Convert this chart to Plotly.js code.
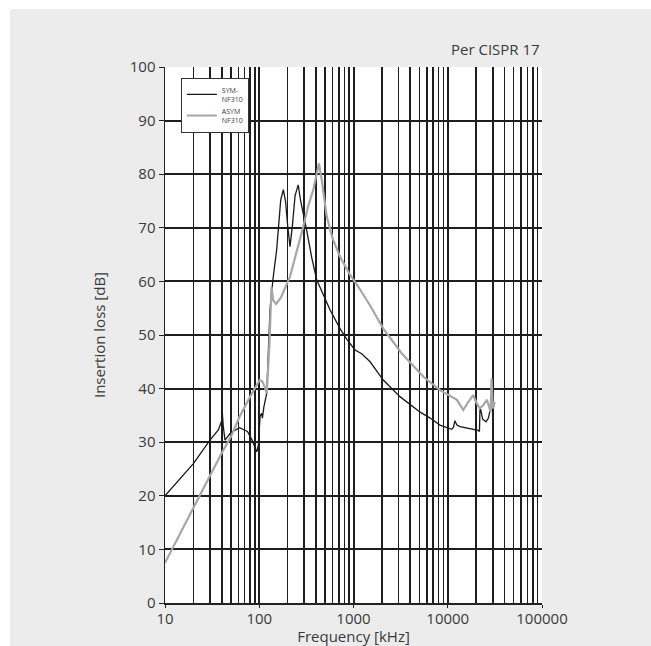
<!DOCTYPE html>
<html>
<head>
<meta charset="utf-8">
<script src="https://cdn.plot.ly/plotly-3.0.1.min.js"></script>
<style>
  html, body { margin: 0; padding: 0; background: #ffffff; }
  #chart { position: absolute; left: 10px; top: 9px; width: 641px; height: 637px; }
</style>
</head>
<body>
<div id="chart"></div>
<script>
// SYM-NF310 (black)
const symFreq = [10, 15, 20, 30, 36.8, 40, 40.5, 41.5, 43.3, 50, 62, 75, 85, 90, 94, 98, 102, 106, 108, 112, 120, 130, 140, 153, 169, 180, 190, 200, 212, 225, 240, 259, 275, 318, 360, 407, 480, 563, 720, 850, 1038, 1222, 1500, 2070, 3110, 4500, 4870, 5100, 6500, 8280, 11000, 11500, 11900, 12500, 13500, 17000, 21100, 21700, 22000, 23500, 25500, 27000, 28200, 30000, 31000];
const symLoss = [20, 23.5, 26, 30.4, 32.3, 34.0, 35.7, 33.0, 30.4, 31.8, 32.7, 32.0, 30.2, 29.0, 28.2, 29.5, 34.8, 35.4, 34.5, 36.6, 39.1, 54.7, 60.5, 65.9, 75.2, 77.1, 75.0, 70.5, 66.5, 70.5, 76.0, 78.0, 75.0, 69.6, 64.5, 60.3, 57.3, 54.7, 51.2, 49.2, 47.2, 46.5, 45.0, 41.6, 38.5, 36.4, 36.0, 35.6, 34.5, 33.2, 32.4, 32.8, 34.0, 33.2, 32.9, 32.5, 32.2, 32.0, 36.6, 34.3, 33.8, 34.5, 36.0, 37.0, 36.5];

// ASYM NF310 (grey)
const asymFreq = [10, 15, 20, 30, 40, 50, 62, 80, 90, 101, 108, 115, 120, 128, 135, 140, 151, 170, 212, 250, 293, 330, 374, 430, 460, 520, 600, 720, 900, 1125, 1500, 2070, 3240, 5520, 8280, 12500, 14600, 16500, 18600, 20000, 21800, 24000, 26000, 27500, 28500, 29200, 30000, 31600];
const asymLoss = [7.5, 13.5, 17.5, 23.6, 28.0, 31.0, 34.8, 38.5, 40.0, 41.6, 41.3, 40.2, 39.1, 48.0, 59.0, 56.5, 55.8, 57.0, 60.9, 65.5, 70.2, 74.0, 77.1, 82.0, 79.0, 72.1, 68.0, 64.6, 61.5, 59.0, 55.5, 51.2, 46.6, 42.2, 39.7, 37.9, 36.0, 37.5, 38.8, 37.5, 36.3, 37.0, 37.9, 36.6, 35.7, 41.9, 36.3, 37.5];

const seriesNames = ['SYM-<br>NF310', 'ASYM<br>NF310'];
const majorTicks = [10, 100, 1000, 10000, 100000];
const majorLabels = ['10', '100', '1000', '10000', '100000'];
const minorTicks = [];
for (let d = 10; d < 100000; d *= 10) {
  for (let k = 2; k <= 9; k++) minorTicks.push(k * d);
}
const yTicks = [0, 10, 20, 30, 40, 50, 60, 70, 80, 90, 100];

const textColor = '#3a3a3a';

const traces = [
  {
    x: symFreq, y: symLoss, name: seriesNames[0], type: 'scatter', mode: 'lines',
    line: { color: '#1a1a1a', width: 1.3 }
  },
  {
    x: asymFreq, y: asymLoss, name: seriesNames[1], type: 'scatter', mode: 'lines',
    line: { color: '#a6a6a6', width: 2.2 }
  }
];

const layout = {
  width: 641, height: 637,
  margin: { l: 155, r: 109, t: 58, b: 43 },
  paper_bgcolor: '#ececec',
  plot_bgcolor: '#ffffff',
  font: { family: '"Open Sans", sans-serif', size: 15, color: textColor },
  showlegend: true,
  legend: {
    x: 0.042, y: 0.98, xanchor: 'left', yanchor: 'top',
    bgcolor: '#ffffff', bordercolor: '#333333', borderwidth: 1,
    font: { size: 7, color: textColor },
    itemwidth: 30, tracegroupgap: 2
  },
  xaxis: {
    type: 'log', range: [1, 5],
    tickmode: 'array', tickvals: majorTicks, ticktext: majorLabels,
    ticks: 'outside', ticklen: 3, tickcolor: '#222',
    ticklabelstandoff: -2,
    showgrid: true, gridcolor: '#1e1e1e', gridwidth: 2,
    minor: { tickmode: 'array', tickvals: minorTicks, showgrid: true, gridcolor: '#1e1e1e', gridwidth: 1.6, ticks: '' },
    showline: true, linecolor: '#222', linewidth: 1.5,
    zeroline: false,
    title: { text: 'Frequency [kHz]', standoff: 0, font: { size: 15, color: textColor } },
    tickfont: { size: 15, color: textColor }
  },
  yaxis: {
    range: [0, 100],
    tickmode: 'array', tickvals: yTicks,
    ticks: 'outside', ticklen: 5, tickcolor: '#222',
    showgrid: true, gridcolor: '#1e1e1e', gridwidth: 2,
    showline: true, linecolor: '#222', linewidth: 1.5,
    zeroline: false,
    title: { text: 'Insertion loss [dB]', standoff: 20, font: { size: 15, color: textColor } },
    tickfont: { size: 15, color: textColor }
  },
  annotations: [
    {
      text: 'Per CISPR 17', xref: 'paper', yref: 'paper', x: 1, y: 1,
      xanchor: 'right', yanchor: 'bottom', yshift: 6, showarrow: false,
      font: { size: 15, color: textColor }
    }
  ]
};

Plotly.newPlot('chart', traces, layout, { displayModeBar: false, staticPlot: true });
</script>
</body>
</html>
